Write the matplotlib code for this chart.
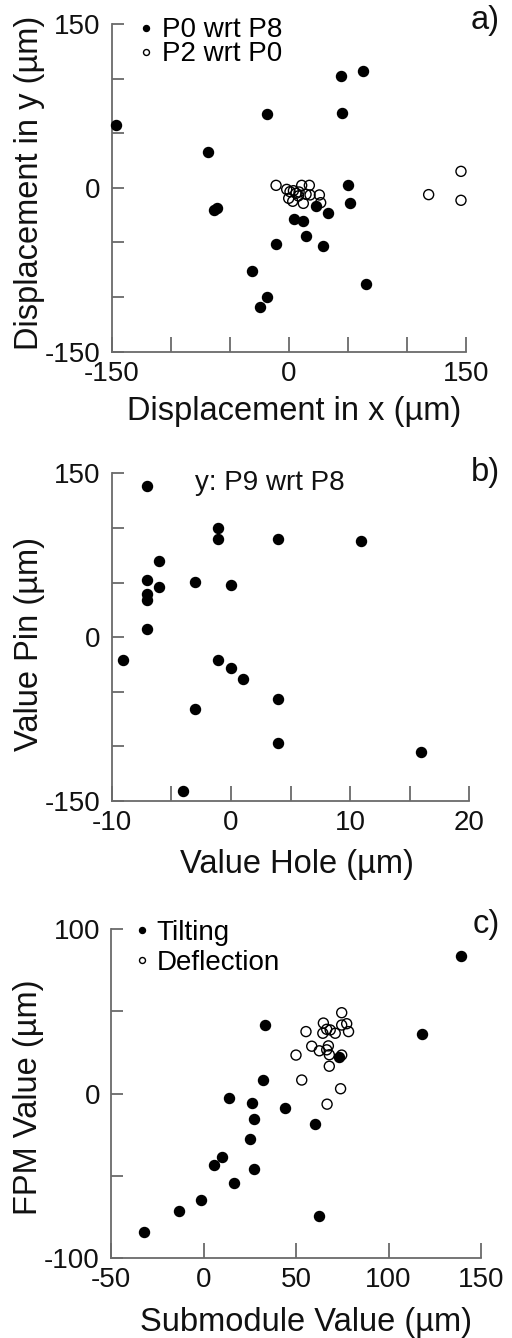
import matplotlib
matplotlib.use("Agg")
import matplotlib.pyplot as plt
from matplotlib.lines import Line2D

plt.rcParams['font.family'] = ['Liberation Sans', 'DejaVu Sans']

# ---------------- data ----------------
# panel a: P0 wrt P8 (filled)
a_fill_x = [-146.3, -68.4, -63.3, -60.5, -18.1, 44.1, 63.3, 45.5, 50.6, 52.3, 22.9, 33.1,
            4.5, 12.4, 14.7, -10.7, 28.8, -31.4, 65.8, -18.1, -24.0]
a_fill_y = [57.5, 32.5, -20.3, -18.8, 67.9, 102.1, 106.7, 68.2, 2.9, -13.9, -16.3, -23.3,
            -28.5, -30.6, -44.4, -51.7, -53.5, -76.1, -88.3, -99.9, -108.8]
# panel a: P2 wrt P0 (open)
a_open_x = [-10.7, -1.7, 1.1, 4.0, 6.2, 8.8, 11.0, 17.5, 14.7, 26.0, 27.1, 12.4, 3.4, 0.0,
            8.2, 18.1, 118.6, 146.0, 146.0]
a_open_y = [2.3, -1.4, -3.5, -2.6, -5.0, -3.8, 2.3, 2.3, -5.9, -6.5, -13.6, -14.2, -12.3, -9.6,
            -7.4, -6.5, -6.2, 15.1, -11.4]

# panel b: y: P9 wrt P8
b_x = [-7.04, -1.05, -1.05, 3.98, 10.94, -6.0, -7.04, -3.01, -6.0, -0.02, -7.04, -7.04,
       -7.04, -9.02, -1.05, 0.0, 0.99, 3.98, -3.01, 3.98, 15.97, -4.05]
b_y = [138.7, 100.0, 89.9, 90.2, 88.4, 69.4, 52.0, 50.2, 45.6, 47.7, 39.5, 34.4,
       7.2, -20.9, -20.9, -28.2, -38.0, -56.3, -66.0, -96.6, -105.1, -140.5]

# panel c: Tilting (filled)
c_fill_x = [139.4, 118.3, 33.2, 32.0, 73.2, 13.6, 26.2, 44.1, 27.1, 60.1, 25.0, 9.8,
            5.9, 27.1, 16.3, -1.2, -13.1, -32.2, 62.3]
c_fill_y = [83.8, 36.2, 41.5, 8.2, 22.0, -2.5, -5.8, -9.0, -15.5, -18.4, -27.9, -38.7,
            -43.7, -45.9, -54.3, -65.1, -71.8, -84.2, -74.6]
# panel c: Deflection (open)
c_open_x = [74.7, 64.8, 77.4, 74.7, 55.4, 64.5, 68.5, 71.2, 78.4, 66.6, 58.5, 62.6,
            67.5, 66.6, 68.0, 50.0, 74.7, 68.0, 53.1, 74.1, 66.8]
c_open_y = [49.2, 42.9, 42.5, 41.7, 37.7, 36.7, 38.7, 36.7, 37.7, 39.1, 28.8, 26.0,
            29.0, 26.6, 23.6, 23.4, 23.4, 16.6, 8.2, 2.9, -6.5]

a_xticks = [-150, -100, -50, 0, 50, 100, 150]
a_xlabels = ['-150', '', '', '0', '', '', '150']
a_yticks = [-150, -100, -50, 0, 50, 100, 150]
a_ylabels = ['-150', '', '', '0', '', '', '150']
b_xticks = [-10, -5, 0, 5, 10, 15, 20]
b_xlabels = ['-10', '', '0', '', '10', '', '20']
b_yticks = a_yticks
b_ylabels = a_ylabels
c_xticks = [-50, 0, 50, 100, 150]
c_xlabels = ['-50', '0', '50', '100', '150']
c_yticks = [-100, -50, 0, 50, 100]
c_ylabels = ['-100', '', '0', '', '100']

# ---------------- figure ----------------
W, H = 512, 1338
fig = plt.figure(figsize=(W / 100, H / 100), dpi=100)

def px_axes(l, r, t, b):
    return fig.add_axes([l / W, 1 - b / H, (r - l) / W, (b - t) / H])

ax_a = px_axes(111.7, 465.7, 24, 351.7)
ax_b = px_axes(111.7, 469.3, 473.3, 801)
ax_c = px_axes(111, 481, 929.3, 1257.7)

SPINE = '#6a6a6a'
TXT = '#111111'
MS = 52
TICKFS = 20
LABFS = 23.5
LEGFS = 20

def style(ax, xlim, ylim, xt, xl, yt, yl, xlabel, ylabel, xlabelpad, xlx, yly):
    ax.set_xlim(*xlim)
    ax.set_ylim(*ylim)
    for s in ['top', 'right']:
        ax.spines[s].set_visible(False)
    for s in ['left', 'bottom']:
        ax.spines[s].set_color(SPINE)
        ax.spines[s].set_linewidth(1.3)
    ax.set_xticks(xt)
    ax.set_xticklabels(xl)
    ax.set_yticks(yt)
    ax.set_yticklabels(yl)
    ax.tick_params(axis='both', direction='in', color=SPINE, width=1.3,
                   labelsize=TICKFS, labelcolor=TXT)
    ax.tick_params(axis='x', length=10.5, pad=6.5)
    ax.tick_params(axis='y', length=8.5, pad=8)
    ax.set_xlabel(xlabel, fontsize=LABFS, labelpad=xlabelpad, color=TXT)
    ax.set_ylabel(ylabel, fontsize=LABFS, labelpad=0, color=TXT)
    ax.xaxis.label.set_x(xlx)
    ax.yaxis.label.set_y(yly)
    ax.patch.set_alpha(0)

def legend(ax, labels, x0, y0, spacing, tpad):
    hf = Line2D([], [], ls='none', marker='o', ms=4.3, mfc='black', mec='black')
    ho = Line2D([], [], ls='none', marker='o', ms=4.3, mfc='none', mec='black', mew=1)
    ax.legend([hf, ho], labels, loc='upper left', frameon=False, fontsize=LEGFS,
              handlelength=0.6, handletextpad=tpad, labelspacing=spacing,
              borderpad=0, borderaxespad=0, bbox_to_anchor=(x0, y0))

# panel a
ax_a.scatter(a_fill_x, a_fill_y, s=MS, c='black', edgecolors='black', linewidths=1, clip_on=False, zorder=3)
ax_a.scatter(a_open_x, a_open_y, s=MS, facecolors='none', edgecolors='black', linewidths=1, clip_on=False, zorder=3)
style(ax_a, (-150, 150), (-150, 150), a_xticks, a_xlabels, a_yticks, a_ylabels,
      'Displacement in x (µm)', 'Displacement in y (µm)', 7, 0.515, 0.515)
legend(ax_a, ['P0 wrt P8', 'P2 wrt P0'], 0.0726, 1.02, -0.08, 0.27)
fig.text(500 / W, 1 - 20 / H, 'a)', fontsize=LABFS, ha='right', va='center', color=TXT)

# panel b
ax_b.scatter(b_x, b_y, s=MS, c='black', edgecolors='black', linewidths=1, clip_on=False, zorder=3)
style(ax_b, (-10, 20), (-150, 150), b_xticks, b_xlabels, b_yticks, b_ylabels,
      'Value Hole (µm)', 'Value Pin (µm)', 9, 0.517, 0.478)
ax_b.text(195 / W, 1 - 483 / H, 'y: P9 wrt P8', transform=fig.transFigure,
          fontsize=LEGFS, ha='left', va='center', color=TXT)
fig.text(500 / W, 1 - 473 / H, 'b)', fontsize=LABFS, ha='right', va='center', color=TXT)

# panel c
ax_c.scatter(c_fill_x, c_fill_y, s=MS, c='black', edgecolors='black', linewidths=1, clip_on=False, zorder=3)
ax_c.scatter(c_open_x, c_open_y, s=MS, facecolors='none', edgecolors='black', linewidths=1, clip_on=False, zorder=3)
style(ax_c, (-50, 150), (-100, 100), c_xticks, c_xlabels, c_yticks, c_ylabels,
      'Submodule Value (µm)', 'FPM Value (µm)', 10, 0.526, 0.488)
legend(ax_c, ['Tilting', 'Deflection'], 0.0605, 1.029, 0.15, 0.24)
fig.text(500 / W, 1 - 924 / H, 'c)', fontsize=LABFS, ha='right', va='center', color=TXT)

fig.savefig('out.png', dpi=100)
